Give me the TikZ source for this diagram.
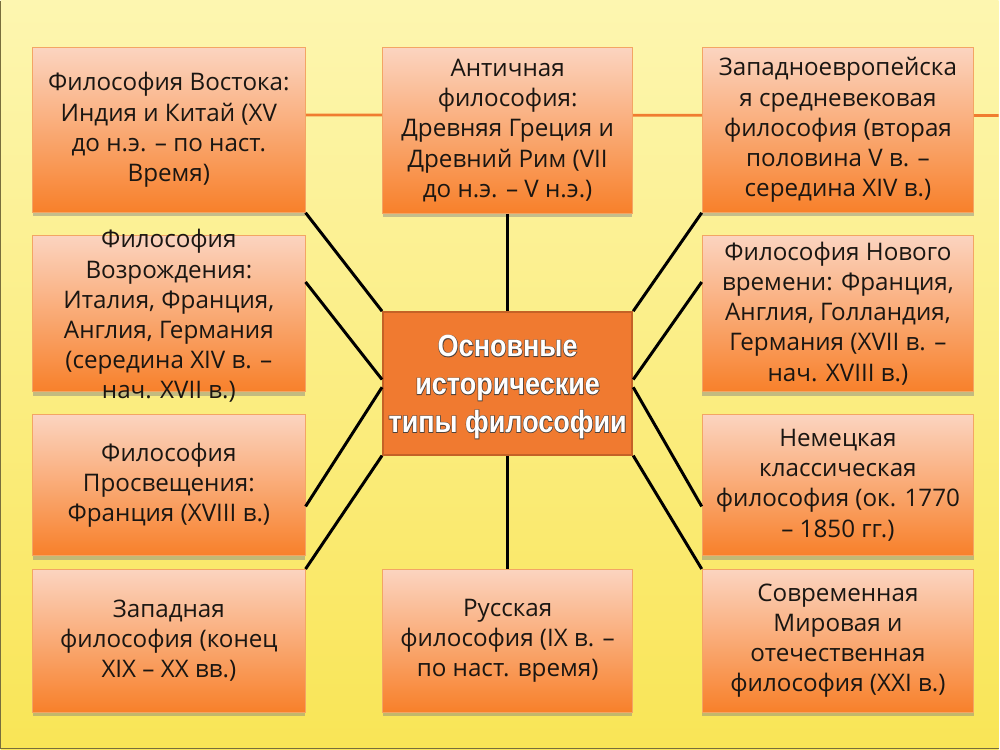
\documentclass[tikz,border=0pt]{standalone}
\usepackage{fontspec}
\setmainfont{Open Sans}
\newfontfamily\headfont[FakeStretch=0.88]{Liberation Sans}
\newfontfamily\headrim[FakeStretch=0.88, FakeBold=4]{Liberation Sans}
\usetikzlibrary{calc,shadows}
\pgfdeclarelayer{back}
\pgfsetlayers{back,main}

\definecolor{bgtop}{RGB}{253,246,176}
\definecolor{bgbottom}{RGB}{249,229,86}
\definecolor{peach}{RGB}{251,212,192}
\definecolor{ember}{RGB}{248,128,42}
\definecolor{edge}{RGB}{243,165,100}
\definecolor{corefill}{RGB}{240,122,48}
\definecolor{coreedge}{RGB}{196,98,38}
\definecolor{ink}{RGB}{26,22,18}
\definecolor{rim}{RGB}{120,110,60}
\definecolor{bandcol}{RGB}{240,124,48}
\definecolor{outl}{RGB}{80,66,58}

\tikzset{
  period/.style={rectangle, draw=edge, line width=0.6pt, top color=peach, bottom color=ember,
    minimum width=5.46cm, inner sep=0pt, align=center, text=ink,
    font=\fontsize{13.8}{17.2}\selectfont,
    drop shadow={shadow xshift=0pt, shadow yshift=-2.4pt, opacity=0.45}},
  periodtext/.style={align=center, text=ink, inner sep=0pt, font=\fontsize{13.8}{17.2}\selectfont},
  hub/.style={rectangle, draw=coreedge, line width=1pt, fill=corefill, minimum width=5cm,
    minimum height=2.86cm, inner sep=0pt},
  hubtext/.style={align=center, text=white, inner sep=0pt,
    font=\headfont\bfseries\fontsize{17.5}{21.6}\selectfont},
  hubrim/.style={hubtext, text=outl, font=\headrim\bfseries\fontsize{17.5}{21.6}\selectfont},
  tie/.style={line width=1.7pt, black},
  band/.style={line width=1.6pt, draw=bandcol},
}

\begin{document}
\begin{tikzpicture}[x=0.02cm, y=-0.02cm]
% background of the slide
\begin{pgfonlayer}{back}
\shade[top color=bgtop, bottom color=bgbottom] (0,0) rectangle (1000,750);
\draw[rim, line width=0.8pt] (0,0) -- (0,749.6) -- (1000,749.6);
\end{pgfonlayer}

% left column
\node[period, minimum height=3.3cm] (vostok) at (168.5,129.5) {Философия Востока:\\Индия и Китай (XV\\до н.э. – по наст.\\Время)};
\node[period, minimum height=3.14cm] (vozrozh) at (168.5,313.5) {};
\node[periodtext] (vozrozhtxt) at (168.5,316) {Философия\\Возрождения:\\Италия, Франция,\\Англия, Германия\\(середина XIV в. –\\нач. XVII в.)};
\node[period, minimum height=2.82cm] (prosv) at (168.5,485.5) {Философия\\Просвещения:\\Франция (XVIII в.)};
\node[period, minimum height=2.86cm] (zapad) at (168.5,641.5) {Западная\\философия (конец\\XIX – XX вв.)};

% middle column
\node[period, minimum width=5cm, minimum height=3.32cm] (antich) at (508,130) {Античная\\философия:\\Древняя Греция и\\Древний Рим (VII\\до н.э. – V н.э.)};
\node[hub] (tipy) at (508,383.5) {};
\node[hubrim] (tipyrim) at (508,387) {Основные\\исторические\\типы философии};
\node[hubtext] (tipytxt) at (508,387) {Основные\\исторические\\типы философии};
\node[period, minimum width=5cm, minimum height=2.86cm] (russ) at (508,641.5) {Русская\\философия (IX в. –\\по наст. время)};

% right column
\node[period, minimum width=5.44cm, minimum height=3.3cm] (sredn) at (839,129.5) {Западноевропейска\\я средневековая\\философия (вторая\\половина V в. –\\середина XIV в.)};
\node[period, minimum width=5.44cm, minimum height=3.14cm] (novoe) at (839,313.5) {Философия Нового\\времени: Франция,\\Англия, Голландия,\\Германия (XVII в. –\\нач. XVIII в.)};
\node[period, minimum width=5.44cm, minimum height=2.82cm] (nemec) at (839,485.5) {Немецкая\\классическая\\философия (ок. 1770\\– 1850 гг.)};
\node[period, minimum width=5.44cm, minimum height=2.86cm] (sovrem) at (839,641.5) {Современная\\Мировая и\\отечественная\\философия (XXI в.)};

% orange band behind the top row
\coordinate (edgeR) at (1000,115);
\begin{pgfonlayer}{back}
\draw[band] ($(vostok.north east)!0.41!(vostok.south east)$) -- (edgeR);
\end{pgfonlayer}

% connectors
\draw[tie] (tipy.north west) -- (vostok.south east);
\draw[tie] ([yshift=2.2pt]tipy.west) -- ($(vozrozh.north east)!0.3!(vozrozh.south east)$);
\draw[tie] ([yshift=-2.2pt]tipy.west) -- ($(prosv.north east)!0.65!(prosv.south east)$);
\draw[tie] (tipy.south west) -- (zapad.north east);
\draw[tie] (tipy.north east) -- (sredn.south west);
\draw[tie] ([yshift=2.2pt]tipy.east) -- ($(novoe.north west)!0.3!(novoe.south west)$);
\draw[tie] ([yshift=-2.2pt]tipy.east) -- ($(nemec.north west)!0.65!(nemec.south west)$);
\draw[tie] (tipy.south east) -- (sovrem.north west);
\draw[tie] (antich.south) -- (tipy.north);
\draw[tie] (tipy.south) -- (russ.north);
\end{tikzpicture}
\end{document}
